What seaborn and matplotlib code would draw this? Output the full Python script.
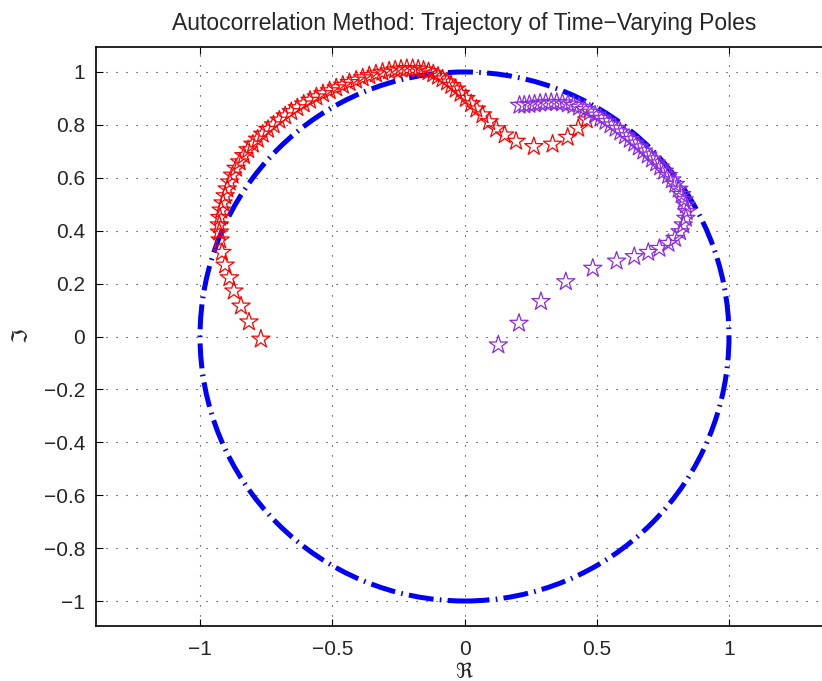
import numpy as np
import pandas as pd
import matplotlib
matplotlib.use("Agg")
import matplotlib.pyplot as plt
from matplotlib.patches import Circle
import seaborn as sns

# Pole trajectory of the first pole pair (red)
pole1_re = [-0.770, -0.815, -0.845, -0.872, -0.889, -0.905, -0.917, -0.924, -0.927, -0.927,
            -0.925, -0.920, -0.913, -0.905, -0.897, -0.888, -0.877, -0.864, -0.850, -0.834,
            -0.818, -0.800, -0.782, -0.763, -0.743, -0.722, -0.700, -0.678, -0.655, -0.632,
            -0.608, -0.584, -0.560, -0.535, -0.510, -0.485, -0.460, -0.435, -0.410, -0.385,
            -0.360, -0.335, -0.310, -0.285, -0.262, -0.240, -0.218, -0.196, -0.175, -0.155,
            -0.136, -0.118, -0.100, -0.083, -0.066, -0.050, -0.033, -0.015, 0.005, 0.025,
            0.045, 0.068, 0.093, 0.120, 0.152, 0.195, 0.262, 0.333, 0.390, 0.430, 0.462]
pole1_im = [-0.010, 0.055, 0.115, 0.172, 0.222, 0.270, 0.318, 0.365, 0.395, 0.422,
            0.450, 0.478, 0.505, 0.532, 0.558, 0.584, 0.610, 0.636, 0.660, 0.684,
            0.706, 0.727, 0.746, 0.765, 0.783, 0.800, 0.818, 0.834, 0.850, 0.865,
            0.879, 0.893, 0.906, 0.918, 0.929, 0.940, 0.950, 0.960, 0.969, 0.978,
            0.986, 0.993, 0.999, 1.004, 1.008, 1.011, 1.013, 1.013, 1.011, 1.007,
            1.001, 0.993, 0.984, 0.974, 0.962, 0.949, 0.935, 0.919, 0.900, 0.880,
            0.860, 0.838, 0.812, 0.785, 0.762, 0.738, 0.718, 0.727, 0.753, 0.787, 0.819]

# Pole trajectory of the second pole pair (purple)
pole2_re = [0.128, 0.206, 0.289, 0.383, 0.485, 0.575, 0.642, 0.695, 0.737, 0.771,
            0.796, 0.815, 0.827, 0.837, 0.840, 0.837, 0.830, 0.821, 0.810, 0.797,
            0.784, 0.770, 0.755, 0.740, 0.725, 0.709, 0.693, 0.676, 0.659, 0.642,
            0.625, 0.607, 0.589, 0.571, 0.552, 0.533, 0.514, 0.494, 0.474, 0.454,
            0.433, 0.412, 0.391, 0.370, 0.349, 0.328, 0.307, 0.286, 0.265, 0.245,
            0.226, 0.208]
pole2_im = [-0.032, 0.050, 0.132, 0.207, 0.258, 0.285, 0.302, 0.318, 0.333, 0.352,
            0.371, 0.396, 0.422, 0.447, 0.472, 0.497, 0.517, 0.537, 0.557, 0.575,
            0.592, 0.609, 0.625, 0.641, 0.656, 0.671, 0.686, 0.701, 0.716, 0.731,
            0.745, 0.759, 0.773, 0.787, 0.800, 0.813, 0.825, 0.837, 0.848, 0.858,
            0.867, 0.874, 0.879, 0.883, 0.885, 0.885, 0.884, 0.882, 0.879, 0.877,
            0.875, 0.874]

x_ticks = [-1, -0.5, 0, 0.5, 1]
y_ticks = [-1, -0.8, -0.6, -0.4, -0.2, 0, 0.2, 0.4, 0.6, 0.8, 1]

sns.set_theme(style="white")
plt.rcParams["font.family"] = ["Liberation Sans", "DejaVu Sans"]
plt.rcParams["lines.scale_dashes"] = False

fig = plt.figure(figsize=(8.22, 6.81), dpi=100)
ax = fig.add_axes([96 / 822, 54.6 / 681, 737 / 822, 579.8 / 681])
ax.set_xlim(-1.3933, 1.3933)
ax.set_ylim(-1.096, 1.096)

# dotted grid and zero lines
grid_dash = (0, (0.8, 6.4))
for t in x_ticks:
    if t != 0:
        ax.axvline(t, color="#202020", lw=0.8, ls=grid_dash, zorder=1)
for t in y_ticks:
    if t != 0:
        ax.axhline(t, color="#202020", lw=0.8, ls=grid_dash, zorder=1)
ax.axvline(0, color="#0000ff", lw=0.8, ls=grid_dash, zorder=1)
ax.axhline(0, color="#0000ff", lw=0.8, ls=grid_dash, zorder=1)

# unit circle
ax.add_patch(Circle((0, 0), 1.0, fill=False, edgecolor="#0000ff", lw=3.6,
                    ls=(0, (18, 4.5, 1.2, 4.5)), zorder=2))

df1 = pd.DataFrame({"re": pole1_re, "im": pole1_im})
df2 = pd.DataFrame({"re": pole2_re, "im": pole2_im})
sns.scatterplot(data=df1, x="re", y="im", marker="*", s=190, facecolors="none",
                edgecolors="#ff0000", linewidths=0.9, ax=ax, zorder=3)
sns.scatterplot(data=df2, x="re", y="im", marker="*", s=190, facecolors="none",
                edgecolors="#8a2be2", linewidths=0.9, ax=ax, zorder=3)

ax.set_xticks(x_ticks)
ax.set_yticks(y_ticks)
ax.set_xticklabels(["\u22121", "\u22120.5", "0", "0.5", "1"])
ax.set_yticklabels(["\u22121", "\u22120.8", "\u22120.6", "\u22120.4", "\u22120.2", "0",
                    "0.2", "0.4", "0.6", "0.8", "1"])
ax.tick_params(direction="in", length=5, width=0.8, color="black", labelsize=15,
               top=True, right=True, bottom=True, left=True)
ax.tick_params(axis="x", pad=10)
ax.tick_params(axis="y", pad=8)
for sp in ax.spines.values():
    sp.set_color("black")
    sp.set_linewidth(1.2)
ax.spines["right"].set_visible(False)

ax.set_xlabel(r"$\Re$", fontsize=15, labelpad=2)
ax.set_ylabel(r"$\Im$", fontsize=15, labelpad=8)
ax.set_title("Autocorrelation Method: Trajectory of Time\u2212Varying Poles",
             fontsize=16.5, pad=12)

fig.savefig("out.png", dpi=100)
